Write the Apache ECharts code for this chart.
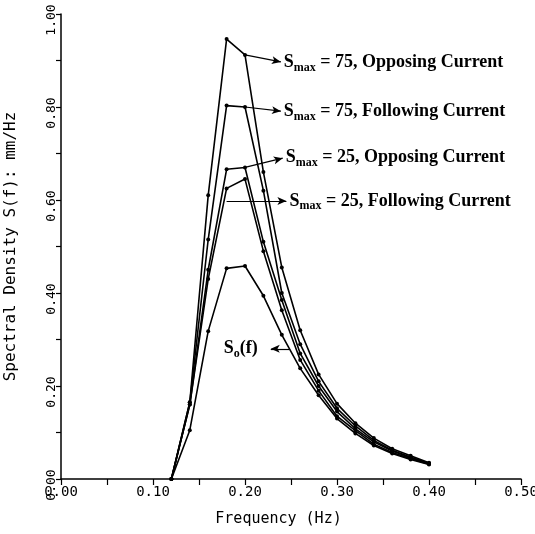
<!DOCTYPE html>
<html>
<head>
<meta charset="utf-8">
<script src="https://cdn.jsdelivr.net/npm/echarts@6.0.0/dist/echarts.min.js"></script>
<style>
  html, body { margin: 0; padding: 0; background: #fff; }
  #main { width: 535px; height: 534px; }
</style>
</head>
<body>
<div id="main"></div>
<script>
// 频率 (Hz)
var freq = [0.12, 0.14, 0.16, 0.18, 0.20, 0.22, 0.24, 0.26, 0.28, 0.30, 0.32, 0.34, 0.36, 0.38, 0.40]
// 各曲线谱密度
var smax75Opposing = [0, 0.165, 0.61, 0.946, 0.912, 0.66, 0.455, 0.32, 0.225, 0.162, 0.12, 0.088, 0.065, 0.05, 0.035]
var smax75Following = [0, 0.165, 0.515, 0.803, 0.80, 0.62, 0.40, 0.29, 0.21, 0.152, 0.114, 0.083, 0.062, 0.047, 0.034]
var smax25Opposing = [0, 0.16, 0.45, 0.666, 0.67, 0.51, 0.385, 0.27, 0.20, 0.145, 0.108, 0.08, 0.06, 0.046, 0.033]
var smax25Following = [0, 0.16, 0.43, 0.625, 0.645, 0.49, 0.363, 0.256, 0.19, 0.135, 0.104, 0.075, 0.057, 0.044, 0.032]
var s0 = [0, 0.105, 0.318, 0.453, 0.458, 0.394, 0.31, 0.238, 0.18, 0.13, 0.098, 0.072, 0.055, 0.042, 0.031]

// 刻度标签
var xTickLabels = ['0.00', '0.10', '0.20', '0.30', '0.40', '0.50']
var yTickLabels = ['0.00', '0.20', '0.40', '0.60', '0.80', '1.00']

// 注释: 起点, 终点, 文字
var notes = [
  { from: [0.20, 0.912], to: [0.239, 0.897], sub: 'max', text: ' = 75, Opposing Current' },
  { from: [0.20, 0.80], to: [0.239, 0.791], sub: 'max', text: ' = 75, Following Current' },
  { from: [0.20, 0.67], to: [0.241, 0.69], sub: 'max', text: ' = 25, Opposing Current' },
  { from: [0.18, 0.598], to: [0.245, 0.598], sub: 'max', text: ' = 25, Following Current' },
  { from: [0.248, 0.28], to: [0.228, 0.28], sub: 'o', text: '(f)' }
]

var monoFont = 'DejaVu Sans Mono'
var serifFont = 'Liberation Serif'

function pairUp (ys) {
  var out = []
  for (var i = 0; i < freq.length; i++) {
    out.push([freq[i], ys[i]])
  }
  return out
}

function pickLabel (labels) {
  return function (v) {
    var s = v.toFixed(2)
    return labels.indexOf(s) > -1 ? s : ''
  }
}

function makeSeries (name, ys) {
  return {
    name: name,
    type: 'line',
    data: pairUp(ys),
    symbol: 'circle',
    symbolSize: 4,
    lineStyle: { color: '#000', width: 1.6 },
    itemStyle: { color: '#000' },
    silent: true
  }
}

var noteLines = notes.map(function (n, i) {
  return [
    { coord: n.from, symbol: 'none' },
    {
      coord: n.to,
      symbol: 'arrow',
      symbolSize: [6, 9],
      label: {
        show: true,
        position: 'end',
        // S0 的文字离箭头远一点
        distance: i === notes.length - 1 ? 13 : 3,
        formatter: '{s|S}{sub|' + n.sub + '}{t|' + n.text + '}',
        rich: {
          s: { fontFamily: serifFont, fontWeight: 'bold', fontSize: 18, lineHeight: 22, color: '#000' },
          sub: { fontFamily: serifFont, fontWeight: 'bold', fontSize: 12, lineHeight: 12, verticalAlign: 'bottom', color: '#000' },
          t: { fontFamily: serifFont, fontWeight: 'bold', fontSize: 18, lineHeight: 22, color: '#000' }
        }
      }
    }
  ]
})

var series = [
  makeSeries('Smax = 75, Opposing Current', smax75Opposing),
  makeSeries('Smax = 75, Following Current', smax75Following),
  makeSeries('Smax = 25, Opposing Current', smax25Opposing),
  makeSeries('Smax = 25, Following Current', smax25Following),
  makeSeries('So(f)', s0)
]
series[0].markLine = {
  silent: true,
  animation: false,
  lineStyle: { color: '#000', width: 1.2, type: 'solid' },
  data: noteLines
}

var myChart = echarts.init(document.getElementById('main'))
var option = {
  animation: false,
  backgroundColor: '#fff',
  grid: { left: 61, right: 14, top: 14, bottom: 55, containLabel: false, outerBoundsMode: 'none' },
  xAxis: {
    type: 'value',
    min: 0,
    max: 0.5,
    interval: 0.05,
    name: 'Frequency (Hz)',
    nameLocation: 'middle',
    nameGap: 33,
    nameTextStyle: { fontFamily: monoFont, fontSize: 15, color: '#000', padding: [0, 25, 0, 0] },
    axisLine: { lineStyle: { color: '#000', width: 1.5 } },
    axisTick: { length: 6, lineStyle: { color: '#000', width: 1.2 } },
    axisLabel: { fontFamily: monoFont, fontSize: 14, color: '#000', margin: 6, formatter: pickLabel(xTickLabels) },
    splitLine: { show: false }
  },
  yAxis: {
    type: 'value',
    min: 0,
    max: 1,
    interval: 0.1,
    name: 'Spectral Density S(f): mm/Hz',
    nameLocation: 'middle',
    nameGap: 42,
    nameRotate: 90,
    nameTextStyle: { fontFamily: monoFont, fontSize: 16, color: '#000' },
    axisLine: { lineStyle: { color: '#000', width: 1.5 } },
    axisTick: { length: 5, lineStyle: { color: '#000', width: 1.2 } },
    axisLabel: { fontFamily: monoFont, fontSize: 13, color: '#000', rotate: 90, margin: 3, padding: [0, 12, 0, 0], formatter: pickLabel(yTickLabels) },
    splitLine: { show: false }
  },
  series: series
}
myChart.setOption(option)
</script>
</body>
</html>
